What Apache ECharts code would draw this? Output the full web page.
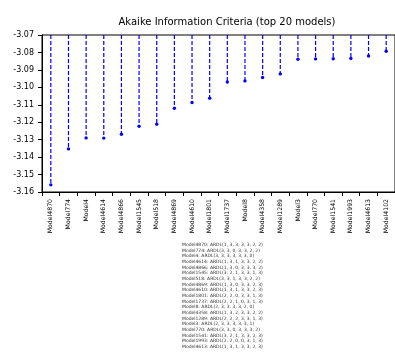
<!DOCTYPE html>
<html>
<head>
<meta charset="utf-8">
<style>
  html, body { margin: 0; padding: 0; background: #fff; }
  #chart { width: 395px; height: 358px; }
</style>
<script src="https://cdn.jsdelivr.net/npm/echarts@6/dist/echarts.min.js"></script>
</head>
<body>
<div id="chart"></div>
<script>
// models, ranked by AIC
const models = [
  "Model4870", "Model774", "Model4", "Model4614", "Model4866",
  "Model1545", "Model518", "Model4869", "Model4610", "Model1801",
  "Model1737", "Model8", "Model4358", "Model1289", "Model3",
  "Model770", "Model1541", "Model1993", "Model4613", "Model4102"
];
// AIC values
const aicValues = [
  -3.1559, -3.1353, -3.1290, -3.1291, -3.1269,
  -3.1223, -3.1211, -3.1120, -3.1087, -3.1062,
  -3.0969, -3.0963, -3.0944, -3.0923, -3.0839,
  -3.0837, -3.0836, -3.0834, -3.0820, -3.0793
];
// y tick labels
const yTicks = ["-3.07", "-3.08", "-3.09", "-3.10", "-3.11", "-3.12", "-3.13", "-3.14", "-3.15", "-3.16"];
// ARDL lag specs shown under the chart (last one is cut off)
const ardlSpecs = [
  "Model4870: ARDL(1, 3, 3, 3, 3, 2, 2)",
  "Model774: ARDL(3, 3, 0, 3, 3, 2, 2)",
  "Model4: ARDL(3, 3, 3, 3, 3, 3, 0)",
  "Model4614: ARDL(1, 3, 1, 3, 3, 2, 2)",
  "Model4866: ARDL(1, 3, 0, 3, 3, 3, 2)",
  "Model1545: ARDL(3, 2, 1, 3, 3, 1, 3)",
  "Model518: ARDL(3, 3, 1, 3, 3, 2, 2)",
  "Model4869: ARDL(1, 3, 0, 3, 3, 2, 3)",
  "Model4610: ARDL(1, 3, 1, 3, 3, 2, 3)",
  "Model1801: ARDL(2, 2, 0, 3, 3, 1, 3)",
  "Model1737: ARDL(2, 2, 1, 0, 3, 1, 3)",
  "Model8: ARDL(2, 3, 3, 3, 3, 2, 0)",
  "Model4358: ARDL(1, 3, 2, 3, 3, 2, 2)",
  "Model1289: ARDL(2, 2, 2, 3, 3, 1, 3)",
  "Model3: ARDL(2, 3, 3, 3, 3, 3, 1)",
  "Model770: ARDL(3, 3, 0, 3, 3, 3, 2)",
  "Model1541: ARDL(3, 2, 1, 3, 3, 2, 3)",
  "Model1993: ARDL(2, 2, 0, 0, 3, 1, 3)",
  "Model4613: ARDL(1, 3, 1, 3, 3, 2, 3)"
];
const yMin = -3.16;
const yMax = -3.07;

const font = "DejaVu Sans";
const chart = echarts.init(document.getElementById("chart"));

const option = {
  animation: false,
  backgroundColor: "#fff",
  textStyle: { fontFamily: font, color: "#000" },
  title: {
    text: "Akaike Information Criteria (top 20 models)",
    left: 222,
    top: 12,
    textAlign: "center",
    textStyle: { fontFamily: font, fontSize: 10, fontWeight: "normal", color: "#000" }
  },
  grid: {
    left: 42,
    top: 35,
    width: 360,
    height: 157,
    show: true,
    borderColor: "#000",
    borderWidth: 1,
    backgroundColor: "transparent"
  },
  xAxis: {
    type: "category",
    data: models,
    boundaryGap: true,
    axisLine: { lineStyle: { color: "#000", width: 1 } },
    axisTick: { show: true, inside: false, length: 4, lineStyle: { color: "#000" } },
    axisLabel: {
      rotate: 90,
      interval: 0,
      margin: 7,
      fontFamily: font,
      fontSize: 6.2,
      color: "#000"
    },
    splitLine: { show: false }
  },
  yAxis: {
    type: "value",
    min: yMin,
    max: yMax,
    interval: 0.01,
    axisLine: { show: true, lineStyle: { color: "#000", width: 1 } },
    axisTick: { show: true, inside: false, length: 4, lineStyle: { color: "#000" } },
    axisLabel: {
      margin: 8,
      fontFamily: font,
      fontSize: 8,
      color: "#000",
      showMinLabel: true,
      showMaxLabel: true,
      hideOverlap: false,
      formatter: v => {
        const k = Math.round((yMax - v) * 100);
        return yTicks[k] !== undefined ? yTicks[k] : "";
      }
    },
    splitLine: { show: false }
  },
  series: [
    {
      type: "custom",
      data: aicValues.map((v, i) => [i, v]),
      encode: { x: 0, y: 1 },
      renderItem: (params, api) => {
        const i = api.value(0);
        const top = api.coord([i, yMax]);
        const pt = api.coord([i, api.value(1)]);
        return {
          type: "group",
          children: [
            {
              type: "line",
              shape: { x1: top[0], y1: top[1], x2: pt[0], y2: pt[1] },
              style: { stroke: "#0000ff", lineWidth: 1.2, lineDash: [4, 2] }
            },
            {
              type: "circle",
              shape: { cx: pt[0], cy: pt[1], r: 1.7 },
              style: { fill: "#0000ff" }
            }
          ]
        };
      }
    }
  ],
  graphic: [
    {
      type: "text",
      left: 182,
      top: 242,
      style: {
        text: ardlSpecs.join("\n"),
        font: "4.5px " + font,
        lineHeight: 5.67,
        fill: "#333"
      }
    }
  ]
};

chart.setOption(option);
</script>
</body>
</html>
